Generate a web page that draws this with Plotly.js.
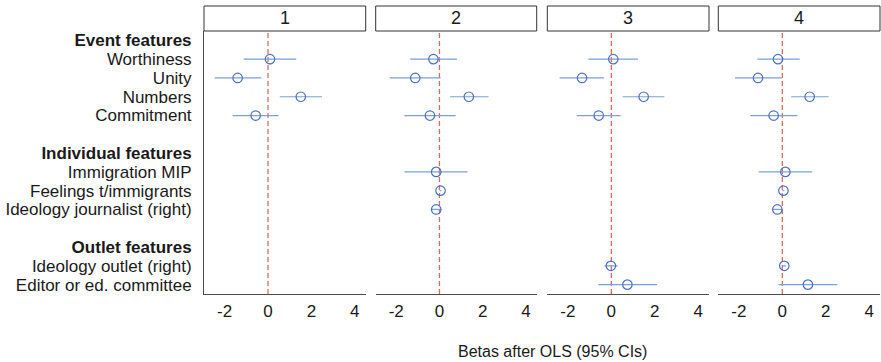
<!DOCTYPE html>
<html>
<head>
<meta charset="utf-8">
<script src="https://cdn.plot.ly/plotly-3.0.1.min.js"></script>
<style>html,body{margin:0;padding:0;background:#fff;}#chart{width:881px;height:362px;}</style>
</head>
<body>
<div id="chart"></div>
<script>
// Row order (top to bottom) of the y axis; blanks separate groups
const rows = ['Event features','Worthiness','Unity','Numbers','Commitment',' ',
  'Individual features','Immigration MIP','Feelings t/immigrants','Ideology journalist (right)','  ',
  'Outlet features','Ideology outlet (right)','Editor or ed. committee'];
const headers = ['Event features','Individual features','Outlet features'];
const panelNames = ['1','2','3','4'];
const xTicks = [-2, 0, 2, 4];
const refLine = 0;

// Model 1
const vars1 = ['Worthiness','Unity','Numbers','Commitment'];
const est1 = [0.09, -1.40, 1.51, -0.57];
const lo1  = [-1.12, -2.46, 0.54, -1.63];
const hi1  = [1.30, -0.31, 2.49, 0.48];
// Model 2
const vars2 = ['Worthiness','Unity','Numbers','Commitment','Immigration MIP','Feelings t/immigrants','Ideology journalist (right)'];
const est2 = [-0.28, -1.12, 1.36, -0.44, -0.15, 0.05, -0.15];
const lo2  = [-1.35, -2.30, 0.49, -1.62, -1.62, 0.01, -0.41];
const hi2  = [0.81, 0.05, 2.27, 0.75, 1.30, 0.09, 0.09];
// Model 3
const vars3 = ['Worthiness','Unity','Numbers','Commitment','Ideology outlet (right)','Editor or ed. committee'];
const est3 = [0.09, -1.35, 1.49, -0.58, -0.02, 0.74];
const lo3  = [-1.06, -2.38, 0.52, -1.59, -0.31, -0.60];
const hi3  = [1.23, -0.34, 2.44, 0.43, 0.29, 2.10];
// Model 4
const vars4 = ['Worthiness','Unity','Numbers','Commitment','Immigration MIP','Feelings t/immigrants','Ideology journalist (right)','Ideology outlet (right)','Editor or ed. committee'];
const est4 = [-0.20, -1.12, 1.26, -0.40, 0.14, 0.05, -0.23, 0.09, 1.18];
const lo4  = [-1.15, -2.18, 0.41, -1.47, -1.09, 0.01, -0.49, 0.01, -0.17];
const hi4  = [0.80, -0.03, 2.13, 0.69, 1.38, 0.09, 0.03, 0.17, 2.53];

const models = [
  {vars: vars1, est: est1, lo: lo1, hi: hi1},
  {vars: vars2, est: est2, lo: lo2, hi: hi2},
  {vars: vars3, est: est3, lo: lo3, hi: hi3},
  {vars: vars4, est: est4, lo: lo4, hi: hi4}
];

const W = 881, H = 362;
const panelPx = [[204, 365.7], [375.7, 536.7], [547.3, 709], [718.3, 880]];
const plotTop = 31, plotBottom = 294, stripTop = 6;
const yDom = [1 - plotBottom / H, 1 - plotTop / H];

const FONT = 'Liberation Sans, Arial, Helvetica, sans-serif';
const ptColor = '#4b72c2';
const ciColor = '#7d9fd9';
const axColor = '#4d4d4d';

const traces = models.map((m, i) => ({
  type: 'scatter', mode: 'markers',
  x: m.est, y: m.vars,
  xaxis: i === 0 ? 'x' : 'x' + (i + 1), yaxis: 'y',
  marker: {symbol: 'circle-open', size: 9.5, color: ptColor, line: {width: 1.2, color: ptColor}},
  error_x: {type: 'data', symmetric: false,
    array: m.hi.map((h, k) => h - m.est[k]),
    arrayminus: m.est.map((e, k) => e - m.lo[k]),
    width: 0, thickness: 1.2, color: ciColor},
  hoverinfo: 'x+y', showlegend: false
}));

const layout = {
  width: W, height: H,
  margin: {l: 0, r: 0, t: 0, b: 0},
  paper_bgcolor: '#ffffff', plot_bgcolor: '#ffffff',
  font: {family: FONT, size: 16, color: '#1a1a1a'},
  showlegend: false,
  yaxis: {
    domain: yDom, anchor: 'x', type: 'category',
    categoryorder: 'array', categoryarray: rows,
    range: [rows.length - 0.5, -0.5],
    tickvals: rows,
    ticktext: rows.map(r => headers.includes(r) ? '<b>' + r + '</b>' : r),
    showline: true, linecolor: axColor, linewidth: 1,
    showgrid: false, zeroline: false, ticks: '', ticklabelstandoff: 8,
    tickfont: {family: FONT, size: 17, color: '#1a1a1a'}
  },
  shapes: [], annotations: []
};

panelPx.forEach((p, i) => {
  const key = i === 0 ? 'xaxis' : 'xaxis' + (i + 1);
  const ref = i === 0 ? 'x' : 'x' + (i + 1);
  layout[key] = {
    domain: [p[0] / W, p[1] / W], anchor: 'y',
    range: [-2.95, 4.5], tickvals: xTicks, ticktext: xTicks.map(String),
    showline: true, linecolor: axColor, linewidth: 1,
    showgrid: false, zeroline: false, ticks: '', ticklabelstandoff: 2,
    tickfont: {family: FONT, size: 17, color: '#1a1a1a'}
  };
  layout.shapes.push({
    type: 'line', xref: ref, yref: 'paper', x0: refLine, x1: refLine,
    y0: yDom[0], y1: yDom[1],
    line: {color: '#dc6a62', width: 1.3, dash: '5px,3px'}, layer: 'below'
  });
  layout.shapes.push({
    type: 'rect', xref: 'paper', yref: 'paper',
    x0: p[0] / W, x1: p[1] / W, y0: yDom[1], y1: 1 - stripTop / H,
    fillcolor: '#ffffff', line: {color: '#333333', width: 1}
  });
  layout.annotations.push({
    xref: 'paper', yref: 'paper', x: (p[0] + p[1]) / 2 / W, y: 1 - (stripTop + plotTop) / 2 / H,
    text: panelNames[i], showarrow: false, xanchor: 'center', yanchor: 'middle',
    font: {family: FONT, size: 18, color: '#1a1a1a'}
  });
});

layout.annotations.push({
  xref: 'paper', yref: 'paper', x: 552 / W, y: 1 - 351.5 / H,
  text: 'Betas after OLS (95% CIs)', showarrow: false,
  xanchor: 'center', yanchor: 'middle',
  font: {family: FONT, size: 16, color: '#1a1a1a'}
});

Plotly.newPlot('chart', traces, layout, {staticPlot: true, displayModeBar: false});
</script>
</body>
</html>
